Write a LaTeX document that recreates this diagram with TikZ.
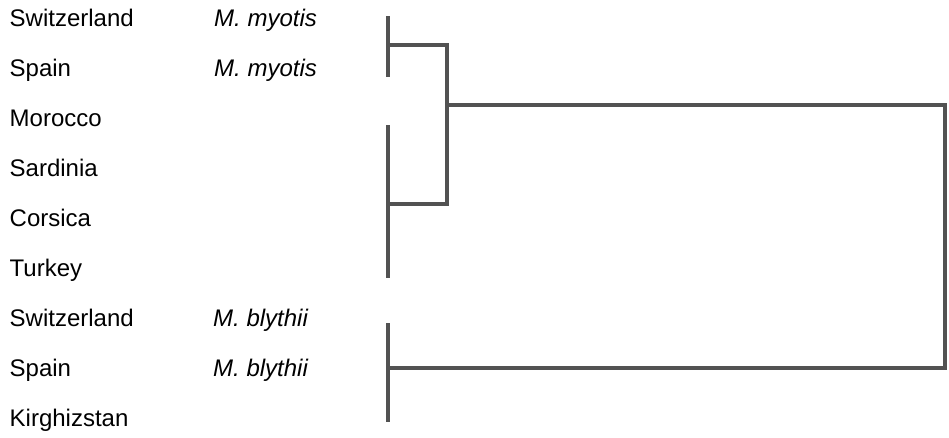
\documentclass[tikz,border=0pt]{standalone}
\usepackage{fontspec}
\setmainfont{Liberation Sans}
\begin{document}
\begin{tikzpicture}[x=1pt,y=-1pt,
  lab/.style={anchor=base west,inner sep=0pt,font=\fontsize{24}{28}\selectfont},
  sp/.style={lab,font=\fontsize{24}{28}\selectfont\itshape},
  tree/.style={draw=black!68,line width=4pt,line cap=butt,line join=miter}]
\useasboundingbox (0,0) rectangle (949,437);
\foreach \t [count=\i from 0] in {Switzerland,Spain,Morocco,Sardinia,Corsica,Turkey,Switzerland,Spain,Kirghizstan}{
  \node[lab] (r\i) at (9.5,{26.5+50*\i}) {\t};
}
\node[sp] (s0) at (214,26.5) {M. myotis};
\node[sp] (s1) at (214,76.5) {M. myotis};
\node[sp] (s6) at (213,326.5) {M. blythii};
\node[sp] (s7) at (213,376.5) {M. blythii};
% bars
\coordinate (b1t) at (388,16);  \coordinate (b1b) at (388,77);
\coordinate (b2t) at (388,125); \coordinate (b2b) at (388,278);
\coordinate (b3t) at (388,323); \coordinate (b3b) at (388,422);
\coordinate (j1) at (388,45);
\coordinate (j2) at (388,204);
\coordinate (j3) at (388,368);
\coordinate (m1) at (447,45);
\coordinate (m2) at (447,204);
\coordinate (m3) at (447,105);
\coordinate (rt) at (945,105);
\coordinate (rb) at (945,368);
\draw[tree] (b1t) -- (b1b);
\draw[tree] (b2t) -- (b2b);
\draw[tree] (b3t) -- (b3b);
\draw[tree] (j1) -- (m1) -- (m2) -- (j2);
\draw[tree] (m3) -- (rt) -- (rb) -- (j3);
\end{tikzpicture}
\end{document}
